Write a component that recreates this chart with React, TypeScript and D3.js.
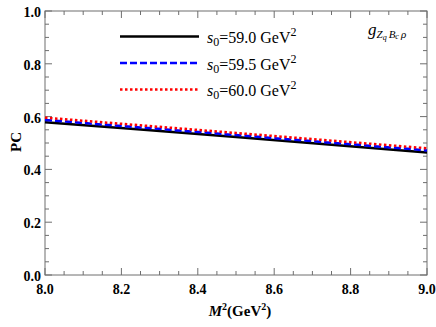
import { useRef, useEffect } from 'react';
import * as d3 from 'd3';

const VW = 436, VH = 327;
const M = { top: 11, right: 9, bottom: 52, left: 45 };
const IW = VW - M.left - M.right;
const IH = VH - M.top - M.bottom;

const M2 = [8.0, 8.25, 8.5, 8.75, 9.0];
const PC_590 = [0.579, 0.551, 0.523, 0.493, 0.464];
const PC_595 = [0.587, 0.559, 0.530, 0.501, 0.472];
const PC_600 = [0.596, 0.567, 0.538, 0.509, 0.480];
const LEGEND = ['59.0', '59.5', '60.0'];
const X_TICKS = [8.0, 8.2, 8.4, 8.6, 8.8, 9.0];
const Y_TICKS = [0, 0.2, 0.4, 0.6, 0.8, 1.0];

const SERIES = [
  { values: PC_590, color: '#000000', dash: null as string | null },
  { values: PC_595, color: '#0000ff', dash: '7 3' },
  { values: PC_600, color: '#ff0000', dash: '2.5 2.5' },
];

const FONT = '"Liberation Serif", "Times New Roman", "DejaVu Serif", serif';

export default function App() {
  const svgRef = useRef<SVGSVGElement>(null);

  useEffect(() => {
    const svg = d3.select(svgRef.current);
    svg.selectAll('*').remove();

    const x = d3.scaleLinear().domain([8, 9]).range([M.left, M.left + IW]);
    const y = d3.scaleLinear().domain([0, 1]).range([M.top + IH, M.top]);
    const axisColor = '#6e6e6e';

    // frame
    svg.append('rect').attr('x', M.left).attr('y', M.top).attr('width', IW).attr('height', IH)
      .attr('fill', 'none').attr('stroke', axisColor).attr('stroke-width', 1);

    // ticks (inward on all sides)
    const minorX = d3.range(8, 9.0001, 0.05);
    const minorY = d3.range(0, 1.0001, 0.05);
    const tg = svg.append('g').attr('stroke', axisColor).attr('stroke-width', 1);
    minorX.forEach(v => {
      const isMajor = X_TICKS.some(t => Math.abs(t - v) < 1e-6);
      const len = isMajor ? 7 : 4;
      tg.append('line').attr('x1', x(v)).attr('x2', x(v)).attr('y1', M.top + IH).attr('y2', M.top + IH - len);
      tg.append('line').attr('x1', x(v)).attr('x2', x(v)).attr('y1', M.top).attr('y2', M.top + len);
    });
    minorY.forEach(v => {
      const isMajor = Y_TICKS.some(t => Math.abs(t - v) < 1e-6);
      const len = isMajor ? 7 : 4;
      tg.append('line').attr('y1', y(v)).attr('y2', y(v)).attr('x1', M.left).attr('x2', M.left + len);
      tg.append('line').attr('y1', y(v)).attr('y2', y(v)).attr('x1', M.left + IW).attr('x2', M.left + IW - len);
    });

    // tick labels
    svg.append('g').selectAll('text').data(X_TICKS).join('text')
      .attr('x', d => x(d)).attr('y', M.top + IH + 19).attr('text-anchor', 'middle')
      .attr('font-family', FONT).attr('font-weight', 'bold').attr('font-size', 14)
      .text(d => d.toFixed(1));
    svg.append('g').selectAll('text').data(Y_TICKS).join('text')
      .attr('x', M.left - 4).attr('y', d => y(d) + 6).attr('text-anchor', 'end')
      .attr('font-family', FONT).attr('font-weight', 'bold').attr('font-size', 14)
      .text(d => d.toFixed(1));

    // axis titles
    const xt = svg.append('text').attr('x', 240).attr('y', 316).attr('text-anchor', 'middle')
      .attr('font-family', FONT).attr('font-weight', 'bold').attr('font-size', 15);
    xt.append('tspan').attr('font-style', 'italic').text('M');
    xt.append('tspan').attr('font-size', 10).attr('dy', -6).text('2');
    xt.append('tspan').attr('dy', 6).text('(GeV');
    xt.append('tspan').attr('font-size', 10).attr('dy', -6).text('2');
    xt.append('tspan').attr('dy', 6).text(')');

    svg.append('text').attr('transform', 'translate(21,142) rotate(-90)').attr('text-anchor', 'middle')
      .attr('font-family', FONT).attr('font-weight', 'bold').attr('font-size', 15).text('PC');

    // lines
    const line = d3.line<number>().x((_, i) => x(M2[i])).y(v => y(v));
    SERIES.forEach(s => {
      const p = svg.append('path').attr('d', line(s.values) ?? '').attr('fill', 'none')
        .attr('stroke', s.color).attr('stroke-width', 2.5);
      if (s.dash) p.attr('stroke-dasharray', s.dash);
    });

    // legend
    SERIES.forEach((s, k) => {
      const ly = 36.5 + k * 26.5;
      const l = svg.append('line').attr('x1', 120).attr('x2', 199).attr('y1', ly).attr('y2', ly)
        .attr('stroke', s.color).attr('stroke-width', 2.5);
      if (s.dash) l.attr('stroke-dasharray', s.dash);
      const t = svg.append('text').attr('x', 207).attr('y', ly + 6.5)
        .attr('font-family', FONT).attr('font-size', 16);
      t.append('tspan').attr('font-style', 'italic').text('s');
      t.append('tspan').attr('font-size', 12).attr('dy', 3).text('0');
      t.append('tspan').attr('dy', -3).text(`=${LEGEND[k]} GeV`);
      t.append('tspan').attr('font-size', 12).attr('dy', -7).text('2');
    });

    // annotation g_{Z_q B_c rho}
    const ann = svg.append('text').attr('x', 368).attr('y', 35)
      .attr('font-family', FONT).attr('font-style', 'italic').attr('font-size', 17);
    ann.append('tspan').text('g');
    ann.append('tspan').attr('font-size', 11).attr('dy', 3).text('Z');
    ann.append('tspan').attr('font-size', 8).attr('dy', 2).text('q');
    ann.append('tspan').attr('font-size', 11).attr('dy', -2).attr('dx', 2).text('B');
    ann.append('tspan').attr('font-size', 8).attr('dy', 1).text('c');
    ann.append('tspan').attr('font-size', 11).attr('dy', -1).attr('dx', 2).text('ρ');
  }, []);

  return (
    <div style={{ position: 'absolute', left: 0, top: 0 }}>
      <svg ref={svgRef} width={VW} height={VH} viewBox={`0 0 ${VW} ${VH}`} style={{ display: 'block', background: '#fff' }} />
    </div>
  );
}
